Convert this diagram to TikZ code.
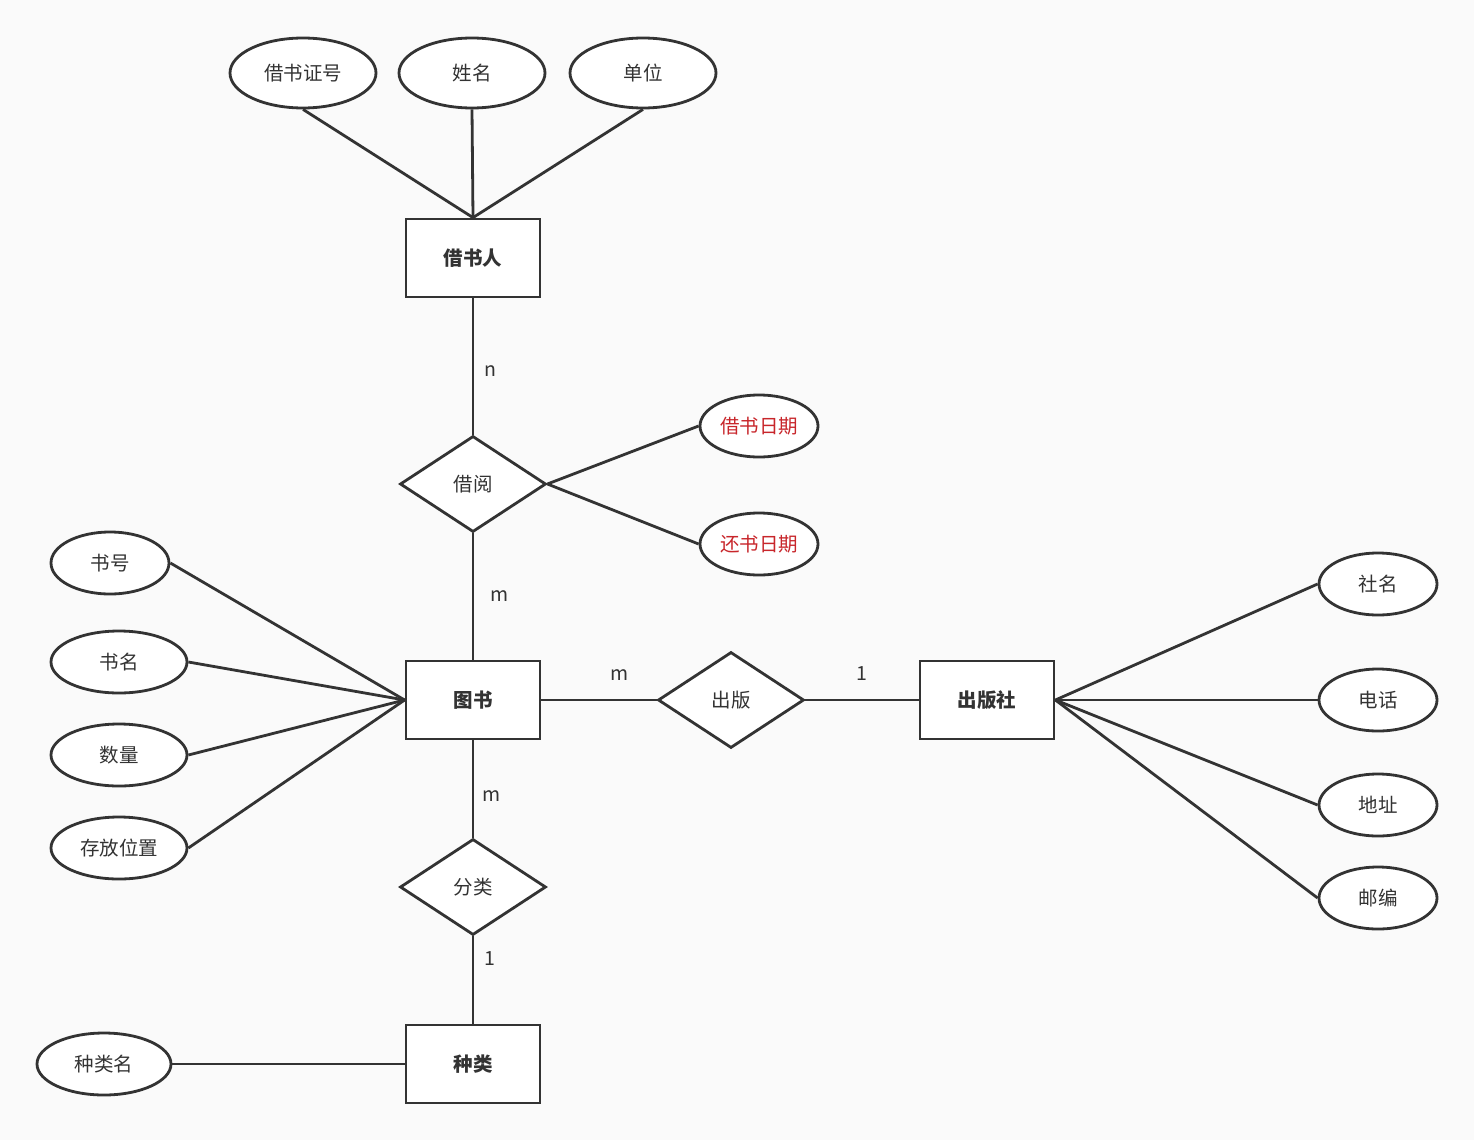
\documentclass[tikz,border=0pt]{standalone}
\usepackage{fontspec}
\usetikzlibrary{shapes.geometric}
\newfontfamily\cjk{Noto Sans CJK SC}
\definecolor{trazo}{RGB}{51,51,51}
\definecolor{rojo}{RGB}{200,38,43}
\definecolor{fondo}{RGB}{250,250,250}
\begin{document}
\begin{tikzpicture}[x=1pt, y=-1pt]

	%DEFINICIONES
	\tikzstyle{every node}=[font=\cjk\fontsize{19.5}{23}\selectfont, text=trazo]
	\tikzstyle{entidad} = [draw=trazo, fill=white, line width=2.8pt, minimum width=134pt, minimum height=78pt, font=\cjk\bfseries\fontsize{19.5}{23}\selectfont]
	\tikzstyle{atributo} = [draw=trazo, fill=white, ellipse, line width=2.8pt, minimum width=118pt, minimum height=62pt, inner sep=0pt]
	\tikzstyle{relacion} = [draw=trazo, fill=white, diamond, line width=2.8pt, minimum width=146pt, minimum height=96pt, inner sep=0pt]
	\tikzstyle{linea} = [draw=trazo, line width=2.8pt]
	\tikzstyle{blank} = [inner sep=0pt, outer sep=0pt]

	%FONDO
	\fill[fondo] (0,0) rectangle (1474,1140);
	\useasboundingbox (0,0) rectangle (1474,1140);

	%ENTIDADES
	\draw(473,258) node[entidad](lector){借书人};
	\draw(473,700) node[entidad](libro){图书};
	\draw(987,700) node[entidad](editorial){出版社};
	\draw(473,1064) node[entidad](tipo){种类};

	%RELACIONES
	\draw(473,484) node[relacion](prestamo){借阅};
	\draw(731,700) node[relacion](publica){出版};
	\draw(473,887) node[relacion](clasifica){分类};

	%ATRIBUTOS
	\draw(303,73) node[atributo, minimum width=146pt, minimum height=70pt](carnet){借书证号};
	\draw(472,73) node[atributo, minimum width=146pt, minimum height=70pt](nombre){姓名};
	\draw(643,73) node[atributo, minimum width=146pt, minimum height=70pt](unidad){单位};
	\draw(759,426) node[atributo, text=rojo](fprestamo){借书日期};
	\draw(759,544) node[atributo, text=rojo](fdevol){还书日期};
	\draw(110,563) node[atributo](numlibro){书号};
	\draw(119,662) node[atributo, minimum width=136pt](titulo){书名};
	\draw(119,755) node[atributo, minimum width=136pt](cantidad){数量};
	\draw(119,848) node[atributo, minimum width=136pt](lugar){存放位置};
	\draw(1378,584) node[atributo](nomedit){社名};
	\draw(1378,700) node[atributo](telefono){电话};
	\draw(1378,805) node[atributo](direccion){地址};
	\draw(1378,898) node[atributo](postal){邮编};
	\draw(104,1064) node[atributo, minimum width=134pt](nomtipo){种类名};

	%LINEAS
	\draw[linea] (carnet.south) -- (lector.north);
	\draw[linea] (nombre.south) -- (lector.north);
	\draw[linea] (unidad.south) -- (lector.north);
	\draw[linea] (lector.south) -- (prestamo.north) node[midway, blank, right=11pt, yshift=-5pt]{n};
	\draw[linea] (prestamo.east) -- (fprestamo.west);
	\draw[linea] (prestamo.east) -- (fdevol.west);
	\draw[linea] (prestamo.south) -- (libro.north) node[midway, blank, right=17pt]{m};
	\draw[linea] (numlibro.east) -- (libro.west);
	\draw[linea] (titulo.east) -- (libro.west);
	\draw[linea] (cantidad.east) -- (libro.west);
	\draw[linea] (lugar.east) -- (libro.west);
	\draw[linea] (libro.east) -- (publica.west) node[midway, blank, above=20pt, xshift=21pt]{m};
	\draw[linea] (publica.east) -- (editorial.west) node[midway, blank, above=20pt]{1};
	\draw[linea] (editorial.east) -- (nomedit.west);
	\draw[linea] (editorial.east) -- (telefono.west);
	\draw[linea] (editorial.east) -- (direccion.west);
	\draw[linea] (editorial.east) -- (postal.west);
	\draw[linea] (libro.south) -- (clasifica.north) node[midway, blank, right=9pt, yshift=-7pt]{m};
	\draw[linea] (clasifica.south) -- (tipo.north) node[midway, blank, right=11pt, yshift=21pt]{1};
	\draw[linea] (nomtipo.east) -- (tipo.west);
\end{tikzpicture}
\end{document}
